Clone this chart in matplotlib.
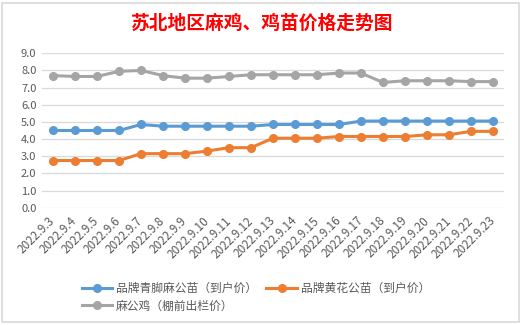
import matplotlib
matplotlib.use("Agg")
import matplotlib.pyplot as plt
from matplotlib.patches import Rectangle
from matplotlib.lines import Line2D

plt.rcParams["font.family"] = ["Noto Sans CJK SC", "DejaVu Sans"]

# Data
dates = ["2022.9.3", "2022.9.4", "2022.9.5", "2022.9.6", "2022.9.7", "2022.9.8",
         "2022.9.9", "2022.9.10", "2022.9.11", "2022.9.12", "2022.9.13", "2022.9.14",
         "2022.9.15", "2022.9.16", "2022.9.17", "2022.9.18", "2022.9.19", "2022.9.20",
         "2022.9.21", "2022.9.22", "2022.9.23"]
qingjiao = [4.5, 4.5, 4.5, 4.5, 4.85, 4.75, 4.75, 4.75, 4.75, 4.75, 4.85, 4.85,
            4.85, 4.85, 5.05, 5.05, 5.05, 5.05, 5.05, 5.05, 5.05]
huanghua = [2.75, 2.75, 2.75, 2.75, 3.15, 3.15, 3.15, 3.3, 3.5, 3.5, 4.05, 4.05,
            4.05, 4.15, 4.15, 4.15, 4.15, 4.25, 4.25, 4.45, 4.45]
magongji = [7.7, 7.65, 7.65, 7.95, 8.0, 7.7, 7.55, 7.55, 7.65, 7.75, 7.75, 7.75,
            7.75, 7.85, 7.85, 7.3, 7.4, 7.4, 7.4, 7.35, 7.35]
series_names = ["品牌青脚麻公苗（到户价）", "品牌黄花公苗（到户价）", "麻公鸡（棚前出栏价）"]
yticks = [0, 1, 2, 3, 4, 5, 6, 7, 8, 9]

BLUE = "#5B9BD5"
ORANGE = "#ED7D31"
GRAY = "#A5A5A5"
TEXT = "#595959"
GRID = "#D9D9D9"

fig = plt.figure(figsize=(5.22, 3.25), dpi=100, facecolor="white")

# chart frame
fig.patches.append(Rectangle((2 / 522, 3 / 325), 517 / 522, 319 / 325, transform=fig.transFigure,
                             fill=False, edgecolor="#D9D9D9", linewidth=1.2))

ax = fig.add_axes([42 / 522, 1 - 207.7 / 325, (504 - 42) / 522, (207.7 - 53.3) / 325])
x = list(range(len(dates)))
lines = []
for vals, color in [(qingjiao, BLUE), (huanghua, ORANGE), (magongji, GRAY)]:
    ln, = ax.plot(x, vals, color=color, linewidth=2.2, marker="o", markersize=5.5, zorder=3)
    lines.append(ln)

ax.set_xlim(-0.5, len(dates) - 0.5)
ax.set_ylim(0, 9)
ax.set_yticks(yticks)
ax.set_yticklabels([f"{v:.1f}" for v in yticks], fontsize=8, color=TEXT)
ax.set_xticks(x)
ax.set_xticklabels(dates, rotation=45, ha="right", va="center", rotation_mode="anchor",
                   fontsize=8.5, color=TEXT)
ax.tick_params(axis="both", length=0, pad=4)
ax.tick_params(axis="x", pad=8)
ax.grid(axis="y", color=GRID, linewidth=0.9)
ax.set_axisbelow(True)
for s in ax.spines.values():
    s.set_visible(False)

fig.text(0.5, 1 - 23 / 325, "苏北地区麻鸡、鸡苗价格走势图", ha="center", va="center",
         fontsize=13.5, fontweight="bold", color="#FF0000")

# legend is filled column-wise, so reorder to get blue/orange on row 1, gray on row 2
order = [0, 2, 1]
handles = [Line2D([0], [0], color=lines[i].get_color(), linewidth=2.2, marker="o", markersize=5.5)
           for i in order]
fig.legend(handles, [series_names[i] for i in order], loc="upper center",
           bbox_to_anchor=(0.49, 1 - 274 / 325), ncol=2, frameon=False, fontsize=8.5,
           labelcolor=TEXT, handlelength=2.6, handletextpad=0.3, columnspacing=0.8,
           labelspacing=0.35, borderpad=0.2)

fig.savefig("out.png", dpi=100, facecolor="white")
